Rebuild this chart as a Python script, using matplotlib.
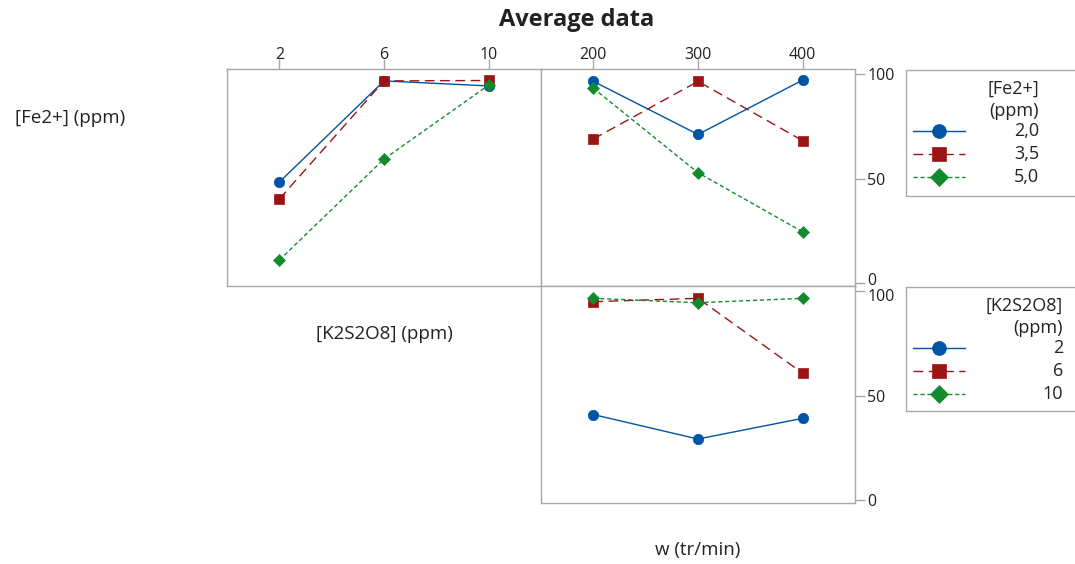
import matplotlib
matplotlib.use('Agg')
import matplotlib.pyplot as plt
import matplotlib.transforms as mtransforms
from matplotlib.patches import Rectangle
from matplotlib.lines import Line2D

plt.rcParams['font.family'] = ['Open Sans', 'DejaVu Sans']

# data
k2s2o8 = [2, 6, 10]
w_speed = [200, 300, 400]
fe_levels = ['2,0', '3,5', '5,0']
k_levels = ['2', '6', '10']

# top left: x = [K2S2O8], one line per [Fe2+]
fe_vs_k = [[48.3, 96.7, 94.3],
           [40.2, 96.7, 96.9],
           [11.0, 59.3, 94.7]]
# top right: x = w, one line per [Fe2+]
fe_vs_w = [[96.5, 71.1, 97.1],
           [68.9, 96.5, 68.1],
           [93.2, 52.8, 24.5]]
# bottom right: x = w, one line per [K2S2O8]
k_vs_w = [[40.9, 29.2, 39.1],
          [94.9, 96.5, 60.7],
          [96.5, 94.4, 96.5]]

colors = ['#0054a6', '#9b1414', '#138a2e']
markers = ['o', 's', 'D']
dashes = [(None, None), (7, 4), (3, 2)]
msizes = [7.5, 7.5, 6.5]
grey = '#a8a8a8'
txt = '#222222'

W, H = 1075, 564
fig = plt.figure(figsize=(W / 100, H / 100), dpi=100)


def px_axes(x0, y0, x1, y1):
    return fig.add_axes([x0 / W, 1 - y1 / H, (x1 - x0) / W, (y1 - y0) / H])


def draw_lines(ax, xs, series):
    for i, ys in enumerate(series):
        ls = '-' if i == 0 else '--'
        line, = ax.plot(xs, ys, color=colors[i], lw=1.0, ls=ls,
                        marker=markers[i], ms=msizes[i], mec=colors[i], mew=0.5)
        if i > 0:
            line.set_dashes(dashes[i])


def style(ax, top=False, right=False):
    for s in ax.spines.values():
        s.set_color(grey)
        s.set_linewidth(1.0)
    ax.tick_params(colors=grey, labelcolor=txt, labelsize=11.5,
                   length=7, width=1, direction='out', pad=2)
    ax.tick_params(axis='x', pad=-3)
    ax.tick_params(top=top, labeltop=top, bottom=False, labelbottom=False,
                   left=False, labelleft=False, right=right, labelright=right)
    ax.set_ylim(-1.4, 102.4)


ax1 = px_axes(227, 69, 541, 286)
draw_lines(ax1, k2s2o8, fe_vs_k)
ax1.set_xlim(0, 12)
ax1.set_xticks(k2s2o8)
style(ax1, top=True)

ax2 = px_axes(541, 69, 855, 286)
draw_lines(ax2, w_speed, fe_vs_w)
ax2.set_xlim(150, 450)
ax2.set_xticks(w_speed)
ax2.set_yticks([0, 50, 100])
style(ax2, top=True, right=True)

ax3 = px_axes(541, 286, 855, 503)
draw_lines(ax3, w_speed, k_vs_w)
ax3.set_xlim(150, 450)
ax3.set_xticks(w_speed)
ax3.set_yticks([0, 50, 100])
style(ax3, right=True)

# nudge the touching "0" / "100" labels apart a little
fig.canvas.draw()
up = mtransforms.ScaledTranslation(0, 3 / 72, fig.dpi_scale_trans)
down = mtransforms.ScaledTranslation(0, -3 / 72, fig.dpi_scale_trans)
for t in ax2.yaxis.get_majorticklabels():
    if t.get_text() == '0':
        t.set_transform(t.get_transform() + up)
for t in ax3.yaxis.get_majorticklabels():
    if t.get_text() == '100':
        t.set_transform(t.get_transform() + down)

fig.text(577 / W, 1 - 20 / H, 'Average data', ha='center', va='center',
         fontsize=17, fontweight='bold', color=txt)
fig.text(70 / W, 1 - 118 / H, '[Fe2+] (ppm)', ha='center', va='center',
         fontsize=13.5, color=txt)
fig.text(384 / W, 1 - 334 / H, '[K2S2O8] (ppm)', ha='center', va='center',
         fontsize=13.5, color=txt)
fig.text(698 / W, 1 - 550 / H, 'w (tr/min)', ha='center', va='center',
         fontsize=13.5, color=txt)

# legends drawn in pixel space, Minitab style
lg = fig.add_axes([0, 0, 1, 1])
lg.set_xlim(0, W)
lg.set_ylim(H, 0)
lg.axis('off')


def legend_box(top, bottom, title, labels, right_x):
    lg.add_patch(Rectangle((906, top), 200, bottom - top, fill=False,
                           ec=grey, lw=1.0, clip_on=False))
    lg.text(right_x, top + 19, title[0], ha='right', va='center', fontsize=13, color=txt)
    lg.text(right_x, top + 41, title[1], ha='right', va='center', fontsize=13, color=txt)
    for i, lab in enumerate(labels):
        y = top + 61 + i * 23
        h = Line2D([913, 965], [y, y], color=colors[i], lw=1.0,
                   ls='-' if i == 0 else '--')
        if i > 0:
            h.set_dashes(dashes[i])
        lg.add_line(h)
        lg.plot([939], [y], marker=markers[i], ms=msizes[i] + 2.5,
                color=colors[i], mec=colors[i], mew=0.5)
        lg.text(right_x, y, lab, ha='right', va='center', fontsize=13, color=txt)


legend_box(70, 196, ['[Fe2+]', '(ppm)'], fe_levels, 1039)
legend_box(287, 411, ['[K2S2O8]', '(ppm)'], k_levels, 1063)

fig.savefig('out.png', dpi=100)
